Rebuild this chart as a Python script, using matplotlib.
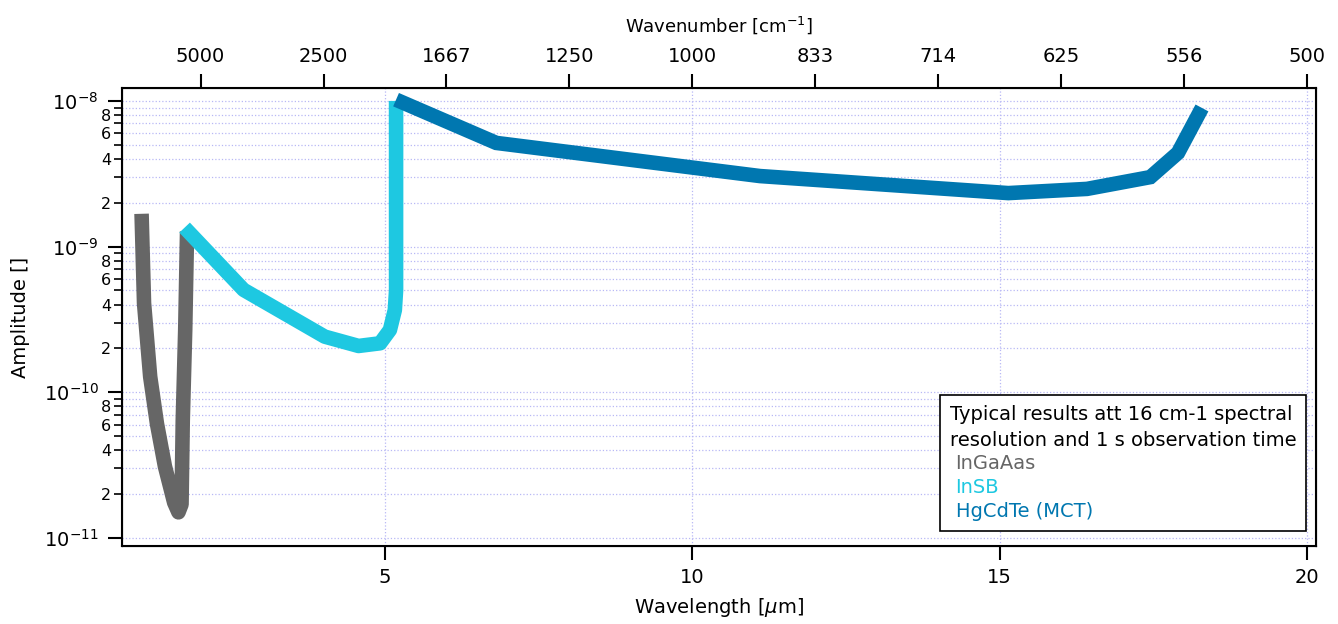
import matplotlib
matplotlib.use("Agg")
import matplotlib.pyplot as plt
import numpy as np
from matplotlib.ticker import FixedLocator, FuncFormatter
from matplotlib.lines import Line2D

# Detector curves (wavelength in um, amplitude)
ingaas_wl = [1.04, 1.08, 1.18, 1.29, 1.42, 1.57, 1.64, 1.69, 1.71, 1.75, 1.78]
ingaas_amp = [1.68e-9, 4.1e-10, 1.28e-10, 6.1e-11, 3.1e-11, 1.75e-11, 1.5e-11,
              1.7e-11, 6.4e-11, 2.7e-10, 1.27e-9]

insb_wl = [1.74, 2.70, 4.02, 4.57, 4.92, 5.08, 5.16, 5.18, 5.18]
insb_amp = [1.35e-9, 5.05e-10, 2.41e-10, 2.08e-10, 2.17e-10, 2.68e-10, 3.67e-10,
            5.0e-10, 1.0e-8]

mct_wl = [5.18, 6.81, 11.10, 15.14, 16.42, 17.45, 17.90, 18.29]
mct_amp = [1.02e-8, 5.15e-9, 3.05e-9, 2.33e-9, 2.49e-9, 3.0e-9, 4.4e-9, 8.95e-9]

top_ticks_wl = [2, 4, 6, 8, 10, 12, 14, 16, 18, 20]
top_labels = ["5000", "2500", "1667", "1250", "1000", "833", "714", "625", "556", "500"]

decades = [1e-11, 1e-10, 1e-9, 1e-8]

c_gray = "#666666"
c_cyan = "#1ec8e1"
c_blue = "#0077b0"
grid_c = "#b8b8f5"

fig = plt.figure(figsize=(13.38, 6.24), dpi=100)
ax = fig.add_axes([0.0912, 0.125, 0.8924, 0.734])

lw = 10.5
ax.plot(ingaas_wl, ingaas_amp, color=c_gray, linewidth=lw,
        solid_capstyle="butt", solid_joinstyle="round")
ax.plot(insb_wl, insb_amp, color=c_cyan, linewidth=lw,
        solid_capstyle="butt", solid_joinstyle="round")
ax.plot(mct_wl, mct_amp, color=c_blue, linewidth=lw,
        solid_capstyle="butt", solid_joinstyle="miter")

ax.set_yscale("log")
ax.set_xlim(0.722, 20.146)
ax.set_ylim(8.81e-12, 1.227e-8)

ax.set_xticks([5, 10, 15, 20])
ax.tick_params(axis="x", which="major", direction="out", length=10, width=1.5,
               labelsize=14, pad=6)

# only the ticks inside the visible range
minor_vals = [m * d for d in decades[:-1] for m in range(2, 10)]
ax.yaxis.set_major_locator(FixedLocator(decades))
ax.yaxis.set_minor_locator(FixedLocator(minor_vals))


def minor_label(v, pos):
    m = round(v / 10 ** np.floor(np.log10(v) + 1e-9))
    return str(m) if m in (2, 4, 6, 8) else ""


def major_label(v, pos):
    return "$10^{%d}$" % round(np.log10(v))


ax.yaxis.set_major_formatter(FuncFormatter(major_label))
ax.yaxis.set_minor_formatter(FuncFormatter(minor_label))
ax.tick_params(axis="y", which="major", direction="out", length=10, width=1.5,
               labelsize=14, pad=7)
ax.tick_params(axis="y", which="minor", direction="out", length=6, width=1.2,
               labelsize=11.5, pad=2)
ax.tick_params(right=False, top=False)

ax.grid(True, which="both", axis="y", color=grid_c, linestyle=":", linewidth=0.9)
ax.grid(True, which="major", axis="x", color=grid_c, linestyle=":", linewidth=0.9)
ax.set_axisbelow(True)

for s in ax.spines.values():
    s.set_linewidth(1.5)

ax.set_xlabel("Wavelength [$\\mu$m]", fontsize=14, labelpad=6)
ax.set_ylabel("Amplitude []", fontsize=14, labelpad=10)

# top axis with wavenumber
ax2 = ax.twiny()
ax2.set_xlim(ax.get_xlim())
ax2.set_xticks(top_ticks_wl)
ax2.set_xticklabels(top_labels)
ax2.tick_params(axis="x", direction="out", length=10, width=1.5, labelsize=14, pad=6)
ax2.set_xlabel("Wavenumber [cm$^{-1}$]", fontsize=13, labelpad=11)

# text-only legend
handles = [Line2D([], [], linestyle="none") for _ in range(3)]
leg = ax.legend(handles, ["InGaAas", "InSB", "HgCdTe (MCT)"],
                title="Typical results att 16 cm-1 spectral\nresolution and 1 s observation time",
                loc="lower right", bbox_to_anchor=(0.9916, 0.033),
                borderaxespad=0, handlelength=0, handletextpad=0.3,
                fontsize=14, title_fontsize=14, fancybox=False,
                framealpha=1, edgecolor="black", labelspacing=0.25,
                borderpad=0.5)
leg._legend_box.align = "left"
leg.get_title().set_linespacing(1.45)
leg.get_frame().set_linewidth(1.2)
for t, c in zip(leg.get_texts(), [c_gray, c_cyan, c_blue]):
    t.set_color(c)

fig.savefig("out.png", dpi=100)
